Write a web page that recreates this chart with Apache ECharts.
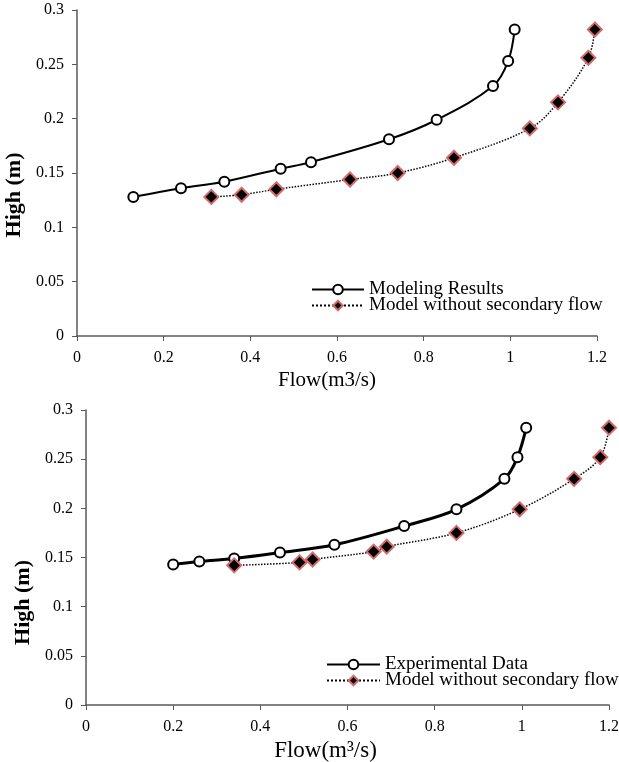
<!DOCTYPE html>
<html>
<head>
<meta charset="utf-8">
<title>Flow vs High</title>
<script src="https://cdn.jsdelivr.net/npm/echarts@6/dist/echarts.min.js"></script>
<style>
  html, body { margin: 0; padding: 0; background: #fff; }
  #main { width: 619px; height: 762px; }
</style>
</head>
<body>
<div id="main"></div>
<script>
// top chart: Modeling Results
var topModelX = [0.13, 0.24, 0.34, 0.47, 0.54, 0.72, 0.83, 0.96, 0.995, 1.01];
var topModelY = [0.128, 0.136, 0.142, 0.154, 0.160, 0.181, 0.199, 0.230, 0.253, 0.282];
// top chart: Model without secondary flow
var topNoSecX = [0.31, 0.38, 0.46, 0.63, 0.74, 0.87, 1.045, 1.11, 1.18, 1.195];
var topNoSecY = [0.128, 0.130, 0.135, 0.144, 0.150, 0.164, 0.191, 0.215, 0.256, 0.282];
// bottom chart: Experimental Data
var botExpX = [0.20, 0.26, 0.34, 0.445, 0.57, 0.73, 0.85, 0.96, 0.99, 1.01];
var botExpY = [0.143, 0.146, 0.149, 0.155, 0.163, 0.182, 0.199, 0.230, 0.252, 0.282];
// bottom chart: Model without secondary flow
var botNoSecX = [0.34, 0.49, 0.52, 0.66, 0.69, 0.85, 0.995, 1.12, 1.18, 1.20];
var botNoSecY = [0.142, 0.145, 0.148, 0.156, 0.161, 0.175, 0.199, 0.230, 0.252, 0.282];

var xTicks = { min: 0, max: 1.2, interval: 0.2 };
var yTicks = { min: 0, max: 0.3, interval: 0.05 };

function pairs(xs, ys) {
    var out = [];
    for (var i = 0; i < xs.length; i++) out.push([xs[i], ys[i]]);
    return out;
}

var serif = 'Liberation Serif';
var axisColor = '#595959';

// shift = move the title left along the axis (px)
function xAxis(idx, title, size, gap, shift) {
    return {
        type: 'value', gridIndex: idx,
        min: xTicks.min, max: xTicks.max, interval: xTicks.interval,
        name: title, nameLocation: 'middle', nameGap: gap,
        nameTextStyle: { fontFamily: serif, fontSize: size, color: '#000', padding: [0, shift * 2, 0, 0] },
        axisLine: { lineStyle: { color: axisColor, width: 1.5 } },
        axisTick: { length: 5, lineStyle: { color: axisColor } },
        axisLabel: { fontFamily: serif, fontSize: 16, color: '#000', margin: 14 },
        splitLine: { show: false }
    };
}
// shift = move the title down along the axis (px)
function yAxis(idx, gap, shift) {
    return {
        type: 'value', gridIndex: idx,
        min: yTicks.min, max: yTicks.max, interval: yTicks.interval,
        name: 'High (m)', nameLocation: 'middle', nameGap: gap,
        nameTextStyle: { fontFamily: serif, fontSize: 22, fontWeight: 'bold', color: '#000', padding: [0, shift * 2, 0, 0] },
        axisLine: { lineStyle: { color: axisColor, width: 1.5 } },
        axisTick: { length: 5, lineStyle: { color: axisColor } },
        axisLabel: { fontFamily: serif, fontSize: 16, color: '#000', margin: 13 },
        splitLine: { show: false }
    };
}

function circleSeries(name, idx, data, width) {
    return {
        name: name, type: 'line', xAxisIndex: idx, yAxisIndex: idx,
        data: data, smooth: 0.35,
        symbol: 'emptyCircle', symbolSize: 10,
        itemStyle: { color: '#000', borderWidth: 2 },
        lineStyle: { color: '#000', width: width, type: 'solid' },
        color: '#000'
    };
}
function diamondSeries(name, idx, data) {
    return {
        name: name, type: 'line', xAxisIndex: idx, yAxisIndex: idx,
        data: data, smooth: 0.35,
        symbol: 'diamond', symbolSize: 14,
        itemStyle: { color: '#000', borderColor: '#d46a6a', borderWidth: 2 },
        lineStyle: { color: '#000', width: 1.5, type: 'dotted' },
        color: '#000'
    };
}

var chart = echarts.init(document.getElementById('main'));
chart.setOption({
    animation: false,
    grid: [
        { left: 77, right: 22, top: 10, height: 326, outerBoundsMode: 'none' },
        { left: 86, right: 10, top: 410, height: 295, outerBoundsMode: 'none' }
    ],
    xAxis: [xAxis(0, 'Flow(m3/s)', 21, 34, 10), xAxis(1, 'Flow(m³/s)', 23, 34, 22)],
    yAxis: [yAxis(0, 44, 22), yAxis(1, 41, 45)],
    legend: [
        {
            data: ['Modeling Results', 'Model without secondary flow'],
            orient: 'vertical', left: 306, top: 275,
            itemWidth: 52, itemHeight: 12, itemGap: -3,
            textStyle: { fontFamily: serif, fontSize: 19, color: '#000' }
        },
        {
            data: ['Experimental Data', 'Model without secondary flow'],
            orient: 'vertical', left: 321, top: 650,
            itemWidth: 53, itemHeight: 12, itemGap: -3,
            textStyle: { fontFamily: serif, fontSize: 19, color: '#000' }
        }
    ],
    series: [
        circleSeries('Modeling Results', 0, pairs(topModelX, topModelY), 2),
        diamondSeries('Model without secondary flow', 0, pairs(topNoSecX, topNoSecY)),
        circleSeries('Experimental Data', 1, pairs(botExpX, botExpY), 3),
        diamondSeries('Model without secondary flow', 1, pairs(botNoSecX, botNoSecY))
    ]
});
</script>
</body>
</html>
